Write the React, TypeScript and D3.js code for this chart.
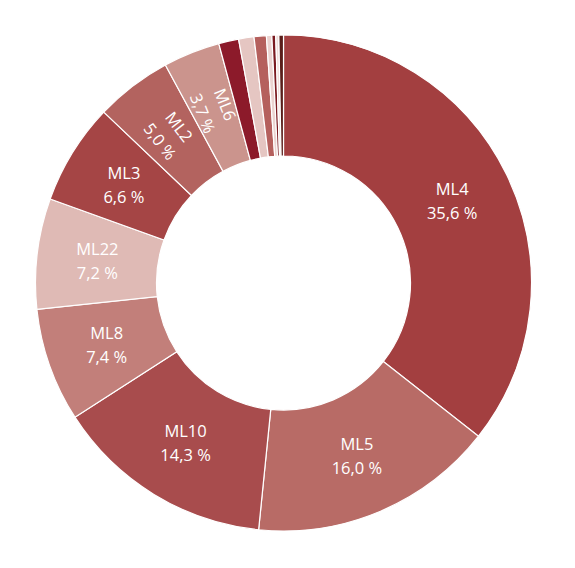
import { useEffect, useRef } from "react";
import * as d3 from "d3";

// slice labels, shares (%) and fills, clockwise from 12 o'clock
const labels = ["ML4", "ML5", "ML10", "ML8", "ML22", "ML3", "ML2", "ML6", "", "", "", "", "", "", ""];
const shares = [35.6, 16.0, 14.3, 7.4, 7.2, 6.6, 5.0, 3.7, 1.3, 1.0, 0.8, 0.35, 0.25, 0.2, 0.3];
const colors = [
  "#a33f40",
  "#b86b66",
  "#a84c4d",
  "#c27f7a",
  "#dfbab5",
  "#a54545",
  "#b3635f",
  "#cb948d",
  "#8c1a2a",
  "#e5c6c2",
  "#b5605d",
  "#ebd3d0",
  "#7a1a20",
  "#f0dcd9",
  "#5a1e1a",
];

const fmt = (v: number) => v.toFixed(1).replace(".", ",") + " %";

export default function App() {
  const svgRef = useRef<SVGSVGElement>(null);

  useEffect(() => {
    document.body.style.margin = "0";
    if (!svgRef.current) return;
    const svg = d3.select(svgRef.current);
    svg.selectAll("*").remove();

    const width = 575;
    const height = 568;
    const cx = 283.5;
    const cy = 283;
    const outer = 248;
    const inner = 127;

    svg.attr("width", width).attr("height", height);

    const data = shares.map((v, i) => ({ label: labels[i], value: v, color: colors[i] }));

    const pie = d3
      .pie<{ label: string; value: number; color: string }>()
      .value((d) => d.value)
      .sort(null);

    const arc = d3
      .arc<d3.PieArcDatum<{ label: string; value: number; color: string }>>()
      .innerRadius(inner)
      .outerRadius(outer);

    const g = svg.append("g").attr("transform", `translate(${cx},${cy})`);
    const arcs = pie(data);

    g.selectAll("path")
      .data(arcs)
      .enter()
      .append("path")
      .attr("d", arc)
      .attr("fill", (d) => d.data.color)
      .attr("stroke", "#fff")
      .attr("stroke-width", 1.2);

    // labels at arc centroids, small slices turned radially
    arcs
      .filter((d) => d.data.label)
      .forEach((d) => {
        const [x, y] = arc.centroid(d);
        const mid = (((d.startAngle + d.endAngle) / 2) * 180) / Math.PI;
        const rot = d.data.value < 6 ? mid - 270 : 0;
        const t = g
          .append("text")
          .attr("transform", `translate(${x},${y}) rotate(${rot})`)
          .attr("text-anchor", "middle")
          .attr("font-family", "'Open Sans', sans-serif")
          .attr("font-size", "16.5px")
          .attr("fill", "#fff");
        t.append("tspan").attr("x", 0).attr("y", -6).text(d.data.label);
        t.append("tspan").attr("x", 0).attr("y", 18).text(fmt(d.data.value));
      });
  }, []);

  return <svg ref={svgRef} style={{ display: "block" }} />;
}
